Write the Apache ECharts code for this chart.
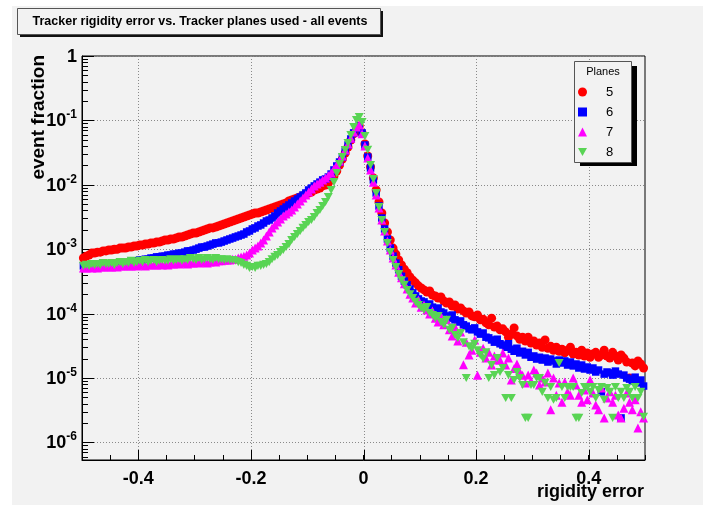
<!DOCTYPE html>
<html>
<head>
<meta charset="utf-8">
<script src="https://cdn.jsdelivr.net/npm/echarts@6/dist/echarts.min.js"></script>
<style>
html, body { margin: 0; padding: 0; background: #ffffff; }
#chart { width: 703px; height: 505px; }
</style>
</head>
<body>
<div id="chart"></div>
<script>
// Histogram binning of the rigidity error: 200 bins on [-0.5, 0.5]
const binLow = -0.5;
const binWidth = 0.005;

// Event fraction per bin, 5 tracker planes used
const planes5 = [
  7.3e-4, 7.8e-4, 8.1e-4, 8.7e-4, 8.7e-4, 9.0e-4, 9.0e-4, 9.4e-4, 9.4e-4, 9.7e-4,
  9.7e-4, 1.0e-3, 1.0e-3, 1.04e-3, 1.04e-3, 1.04e-3, 1.08e-3, 1.08e-3, 1.12e-3, 1.12e-3,
  1.16e-3, 1.16e-3, 1.2e-3, 1.2e-3, 1.25e-3, 1.25e-3, 1.29e-3, 1.29e-3, 1.34e-3, 1.39e-3,
  1.39e-3, 1.44e-3, 1.44e-3, 1.49e-3, 1.55e-3, 1.55e-3, 1.6e-3, 1.66e-3, 1.72e-3, 1.78e-3,
  1.78e-3, 1.85e-3, 1.92e-3, 1.99e-3, 2.06e-3, 2.14e-3, 2.14e-3, 2.21e-3, 2.29e-3, 2.38e-3,
  2.46e-3, 2.55e-3, 2.64e-3, 2.74e-3, 2.84e-3, 2.94e-3, 3.05e-3, 3.16e-3, 3.28e-3, 3.4e-3,
  3.52e-3, 3.65e-3, 3.65e-3, 3.78e-3, 3.92e-3, 4.06e-3, 4.21e-3, 4.36e-3, 4.52e-3, 4.69e-3,
  4.86e-3, 5.03e-3, 5.22e-3, 5.6e-3, 5.81e-3, 6.02e-3, 6.24e-3, 6.47e-3, 6.7e-3, 7.2e-3,
  7.46e-3, 7.73e-3, 8.3e-3, 8.6e-3, 8.9e-3, 9.6e-3, 9.9e-3, 1.07e-2, 1.19e-2, 1.37e-2,
  1.64e-2, 2.03e-2, 2.52e-2, 3.12e-2, 3.86e-2, 4.97e-2, 6.2e-2, 7.35e-2, 8.2e-2, 6.4e-2,
  4.3e-2, 2.8e-2, 1.89e-2, 1.28e-2, 8.3e-3, 5.4e-3, 3.65e-3, 2.55e-3, 1.85e-3, 1.39e-3,
  1.04e-3, 8.4e-4, 6.8e-4, 5.7e-4, 4.9e-4, 4.3e-4, 3.7e-4, 3.3e-4, 3.0e-4, 2.7e-4,
  2.5e-4, 2.33e-4, 2.16e-4, 2.24e-4, 1.94e-4, 1.88e-4, 1.75e-4, 1.81e-4, 1.57e-4, 1.46e-4,
  1.52e-4, 1.31e-4, 1.36e-4, 1.18e-4, 1.22e-4, 1.1e-4, 1.02e-4, 1.06e-4, 9.2e-5, 8.9e-5,
  9.5e-5, 8.0e-5, 8.2e-5, 7.2e-5, 6.7e-5, 8.5e-5, 6.2e-5, 6.4e-5, 5.6e-5, 5.8e-5,
  5.2e-5, 4.3e-5, 4.8e-5, 6.0e-5, 4.5e-5, 4.0e-5, 4.3e-5, 3.75e-5, 4.3e-5, 3.5e-5,
  3.75e-5, 3.25e-5, 3.5e-5, 3.0e-5, 3.9e-5, 2.9e-5, 3.1e-5, 2.7e-5, 3.0e-5, 2.6e-5,
  2.8e-5, 2.45e-5, 2.7e-5, 3.0e-5, 2.36e-5, 2.5e-5, 2.28e-5, 2.7e-5, 2.2e-5, 2.45e-5,
  2.1e-5, 2.36e-5, 2.5e-5, 2.1e-5, 2.28e-5, 2.7e-5, 2.2e-5, 2.04e-5, 2.5e-5, 2.2e-5,
  1.9e-5, 2.28e-5, 2.04e-5, 1.77e-5, 1.0e-5, 1.71e-5, 1.54e-5, 1.84e-5, 1.65e-5, 1.43e-5
];

// Event fraction per bin, 6 tracker planes used
const planes6 = [
  5.5e-4, 5.5e-4, 5.7e-4, 5.5e-4, 5.7e-4, 5.7e-4, 5.7e-4, 5.9e-4, 5.7e-4, 5.9e-4,
  5.9e-4, 6.1e-4, 5.9e-4, 6.1e-4, 6.3e-4, 6.3e-4, 6.3e-4, 6.6e-4, 6.6e-4, 6.6e-4,
  6.8e-4, 6.8e-4, 7.0e-4, 7.0e-4, 7.3e-4, 7.3e-4, 7.6e-4, 7.6e-4, 7.8e-4, 7.8e-4,
  8.1e-4, 8.1e-4, 8.4e-4, 8.4e-4, 8.7e-4, 8.7e-4, 9.0e-4, 9.4e-4, 9.4e-4, 9.7e-4,
  1.0e-3, 1.04e-3, 1.08e-3, 1.08e-3, 1.12e-3, 1.16e-3, 1.2e-3, 1.25e-3, 1.25e-3, 1.29e-3,
  1.34e-3, 1.39e-3, 1.44e-3, 1.49e-3, 1.55e-3, 1.6e-3, 1.66e-3, 1.72e-3, 1.85e-3, 1.92e-3,
  2.06e-3, 2.14e-3, 2.29e-3, 2.38e-3, 2.55e-3, 2.74e-3, 2.84e-3, 3.05e-3, 3.28e-3, 3.65e-3,
  3.92e-3, 4.21e-3, 4.52e-3, 4.86e-3, 5.22e-3, 5.6e-3, 6.02e-3, 6.47e-3, 6.95e-3, 7.46e-3,
  8.3e-3, 8.9e-3, 9.6e-3, 1.03e-2, 1.1e-2, 1.19e-2, 1.23e-2, 1.32e-2, 1.47e-2, 1.7e-2,
  1.96e-2, 2.26e-2, 2.7e-2, 3.34e-2, 4.15e-2, 5.15e-2, 6.4e-2, 7.6e-2, 8.2e-2, 6.4e-2,
  4.15e-2, 2.7e-2, 1.82e-2, 1.19e-2, 7.46e-3, 4.69e-3, 3.05e-3, 2.06e-3, 1.44e-3, 1.04e-3,
  7.8e-4, 6.1e-4, 4.8e-4, 3.8e-4, 3.2e-4, 2.8e-4, 2.4e-4, 2.1e-4, 1.88e-4, 1.69e-4,
  1.57e-4, 1.52e-4, 1.36e-4, 1.41e-4, 1.26e-4, 1.18e-4, 1.22e-4, 1.06e-4, 1.02e-4, 9.2e-5,
  8.5e-5, 9.5e-5, 8.0e-5, 7.4e-5, 7.7e-5, 6.7e-5, 6.4e-5, 5.8e-5, 5.6e-5, 6.0e-5,
  5.2e-5, 4.8e-5, 5.0e-5, 4.3e-5, 4.2e-5, 3.9e-5, 3.6e-5, 4.0e-5, 3.4e-5, 3.25e-5,
  3.0e-5, 3.4e-5, 2.8e-5, 2.6e-5, 2.9e-5, 2.45e-5, 2.6e-5, 2.28e-5, 2.5e-5, 2.1e-5,
  2.2e-5, 1.97e-5, 2.1e-5, 1.9e-5, 2.04e-5, 1.77e-5, 1.97e-5, 1.84e-5, 1.65e-5, 1.9e-5,
  1.71e-5, 1.84e-5, 1.59e-5, 1.77e-5, 1.54e-5, 1.65e-5, 1.43e-5, 1.59e-5, 1.38e-5, 1.48e-5,
  1.33e-5, 1.43e-5, 1.24e-5, 1.33e-5, 6.1e-6, 1.15e-5, 1.24e-5, 1.2e-5, 1.11e-5, 1.28e-5,
  1.15e-5, 2.4e-6, 1.11e-5, 1.0e-5, 9.6e-6, 9.0e-6, 1.03e-5, 8.4e-6, 9.3e-6, 7.5e-6
];

// Event fraction per bin, 7 tracker planes used
const planes7 = [
  5.1e-4, 5.1e-4, 5.3e-4, 5.1e-4, 5.3e-4, 5.1e-4, 5.3e-4, 5.3e-4, 5.5e-4, 5.3e-4,
  5.3e-4, 5.5e-4, 5.3e-4, 5.5e-4, 5.5e-4, 5.7e-4, 5.5e-4, 5.5e-4, 5.7e-4, 5.5e-4,
  5.7e-4, 5.7e-4, 5.5e-4, 5.7e-4, 5.9e-4, 5.7e-4, 5.7e-4, 5.9e-4, 5.7e-4, 5.9e-4,
  5.7e-4, 5.9e-4, 5.9e-4, 6.1e-4, 5.9e-4, 6.1e-4, 6.1e-4, 5.9e-4, 6.1e-4, 6.1e-4,
  6.3e-4, 6.1e-4, 6.3e-4, 6.3e-4, 6.1e-4, 6.3e-4, 6.6e-4, 6.3e-4, 6.6e-4, 6.6e-4,
  6.8e-4, 6.8e-4, 6.8e-4, 7.0e-4, 7.0e-4, 7.3e-4, 7.6e-4, 7.8e-4, 8.1e-4, 8.7e-4,
  9.7e-4, 1.04e-3, 1.12e-3, 1.25e-3, 1.39e-3, 1.6e-3, 1.85e-3, 2.14e-3, 2.38e-3, 2.64e-3,
  2.94e-3, 3.28e-3, 3.52e-3, 3.78e-3, 4.06e-3, 4.52e-3, 5.03e-3, 5.6e-3, 6.24e-3, 6.95e-3,
  7.73e-3, 8.6e-3, 9.6e-3, 1.03e-2, 1.1e-2, 1.19e-2, 1.28e-2, 1.38e-2, 1.52e-2, 1.76e-2,
  2.03e-2, 2.34e-2, 2.8e-2, 3.47e-2, 4.3e-2, 5.3e-2, 6.6e-2, 7.9e-2, 8.5e-2, 6.2e-2,
  4.0e-2, 2.6e-2, 1.7e-2, 1.1e-2, 6.95e-3, 4.36e-3, 2.84e-3, 1.92e-3, 1.34e-3, 9.7e-4,
  7.3e-4, 5.7e-4, 4.4e-4, 3.6e-4, 2.9e-4, 2.4e-4, 2.0e-4, 1.75e-4, 1.46e-4, 1.63e-4,
  1.26e-4, 1.36e-4, 1.14e-4, 9.9e-5, 1.1e-4, 8.5e-5, 7.4e-5, 9.2e-5, 6.7e-5, 8.0e-5,
  5.6e-5, 4.5e-5, 6.2e-5, 3.75e-5, 5.2e-5, 1.6e-5, 3.6e-5, 2.28e-5, 2.7e-5, 3.9e-5,
  1.1e-5, 2.5e-5, 2.9e-5, 2.04e-5, 2.5e-5, 1.59e-5, 2.2e-5, 1.9e-5, 1.9e-5, 2.45e-5,
  1.59e-5, 2.04e-5, 9.3e-6, 1.4e-5, 1.65e-5, 1.24e-5, 1.1e-5, 8.4e-6, 1.11e-5, 9.0e-6,
  1.33e-5, 1.2e-5, 7.8e-6, 1.0e-5, 8.7e-6, 1.2e-5, 3.2e-6, 1.0e-5, 5.4e-6, 8.4e-6,
  4.2e-6, 8.7e-6, 6.1e-6, 5.4e-6, 1.0e-5, 7.8e-6, 5.4e-6, 4.2e-6, 6.5e-6, 4.6e-6,
  9.3e-6, 5.85e-6, 3.8e-6, 3.2e-6, 7.0e-6, 2.4e-6, 4.9e-6, 6.1e-6, 4.2e-6, 5.4e-6,
  2.66e-6, 2.4e-6, 3.4e-6, 5.85e-6, 4.2e-6, 3.2e-6, 4.6e-6, 1.67e-6, 3.0e-6, 2.4e-6
];

// Event fraction per bin, 8 tracker planes used
const planes8 = [
  5.5e-4, 5.7e-4, 5.5e-4, 5.9e-4, 5.7e-4, 5.9e-4, 5.7e-4, 6.1e-4, 5.9e-4, 5.9e-4,
  6.1e-4, 5.7e-4, 6.1e-4, 6.3e-4, 5.9e-4, 6.3e-4, 6.1e-4, 6.6e-4, 6.1e-4, 6.3e-4,
  6.6e-4, 6.3e-4, 6.8e-4, 6.3e-4, 6.6e-4, 6.8e-4, 6.3e-4, 6.6e-4, 6.8e-4, 6.6e-4,
  6.6e-4, 7.0e-4, 6.6e-4, 6.8e-4, 7.0e-4, 6.6e-4, 7.0e-4, 6.8e-4, 7.3e-4, 7.0e-4,
  6.8e-4, 7.3e-4, 6.8e-4, 7.0e-4, 7.3e-4, 7.0e-4, 6.8e-4, 7.3e-4, 7.0e-4, 7.0e-4,
  6.8e-4, 7.0e-4, 6.8e-4, 6.8e-4, 6.6e-4, 6.3e-4, 6.1e-4, 5.7e-4, 5.5e-4, 5.1e-4,
  5.3e-4, 5.1e-4, 5.5e-4, 5.5e-4, 5.7e-4, 5.9e-4, 6.3e-4, 7.0e-4, 7.6e-4, 8.1e-4,
  9.0e-4, 9.7e-4, 1.08e-3, 1.2e-3, 1.39e-3, 1.55e-3, 1.72e-3, 1.92e-3, 2.14e-3, 2.38e-3,
  2.64e-3, 2.84e-3, 3.16e-3, 3.65e-3, 4.06e-3, 4.69e-3, 5.4e-3, 6.47e-3, 8.3e-3, 1.1e-2,
  1.52e-2, 2.1e-2, 2.7e-2, 3.47e-2, 4.45e-2, 5.9e-2, 7.9e-2, 1.01e-1, 1.13e-1, 9.4e-2,
  5.7e-2, 3.5e-2, 2.03e-2, 1.23e-2, 7.46e-3, 4.5e-3, 2.84e-3, 1.85e-3, 1.25e-3, 9.0e-4,
  6.8e-4, 5.3e-4, 4.1e-4, 3.3e-4, 2.8e-4, 2.33e-4, 2.0e-4, 1.75e-4, 1.52e-4, 1.36e-4,
  1.22e-4, 1.14e-4, 1.26e-4, 1.02e-4, 9.5e-5, 8.5e-5, 9.2e-5, 7.4e-5, 6.7e-5, 8.0e-5,
  5.6e-5, 6.0e-5, 4.65e-5, 4.2e-5, 5.0e-5, 3.6e-5, 1.0e-5, 3.1e-5, 2.9e-5, 3.4e-5,
  2.7e-5, 2.28e-5, 2.0e-5, 2.5e-5, 1.0e-5, 1.59e-5, 1.11e-5, 2.04e-5, 1.24e-5, 1.43e-5,
  4.9e-6, 1.11e-5, 4.9e-6, 9.3e-6, 1.24e-5, 1.0e-5, 7.8e-6, 2.4e-6, 2.4e-6, 7.8e-6,
  7.8e-6, 1.0e-5, 1.0e-5, 6.1e-6, 8.4e-6, 4.9e-6, 7.25e-6, 4.6e-6, 4.9e-6, 1.71e-5,
  7.25e-6, 4.9e-6, 7.25e-6, 7.25e-6, 7.25e-6, 2.4e-6, 2.4e-6, 5.85e-6, 7.25e-6, 7.25e-6,
  6.1e-6, 7.25e-6, 4.9e-6, 6.5e-6, 7.25e-6, 4.6e-6, 7.0e-6, 6.1e-6, 2.4e-6, 7.25e-6,
  4.9e-6, 6.1e-6, 4.9e-6, 7.0e-6, 6.1e-6, 4.9e-6, 7.25e-6, 4.9e-6, 6.1e-6, 2.5e-6
];

const seriesNames = ['5', '6', '7', '8'];

// Axis ranges and labelled ticks
const xMin = -0.5, xMax = 0.5;
const xMajorTicks = [-0.4, -0.2, 0, 0.2, 0.4];
const xTickLabels = ['-0.4', '-0.2', '0', '0.2', '0.4'];
const yMin = 5.33e-7, yMax = 1;
const yDecades = [1, 1e-1, 1e-2, 1e-3, 1e-4, 1e-5, 1e-6];
const yTickLabels = ['{b|1}', '{b|10}{s|-1}', '{b|10}{s|-2}', '{b|10}{s|-3}', '{b|10}{s|-4}', '{b|10}{s|-5}', '{b|10}{s|-6}'];

const FONT = "'Liberation Sans', Arial, Helvetica, sans-serif";
const PANEL = '#f2f2f2';

function binPoints(values) {
  return values.map((v, i) => [binLow + binWidth * (i + 0.5), v]);
}

// Minor ticks of the log axis at 2..9 x 10^n
const yMinorTicks = [];
for (let n = -7; n <= 0; n++) {
  for (let k = 2; k <= 9; k++) {
    const v = Number((k * Math.pow(10, n)).toPrecision(3));
    if (v > yMin && v < yMax) yMinorTicks.push(v);
  }
}

// Dotted grid, long ticks and decade labels drawn through the axis scales
function renderFrame(params, api) {
  const cs = params.coordSys;
  const left = cs.x, top = cs.y, right = cs.x + cs.width, bottom = cs.y + cs.height;
  const dotted = { stroke: '#8a8a8a', lineWidth: 1, lineDash: [1, 2] };
  const solid = { stroke: '#000', lineWidth: 1 };
  const children = [];
  xMajorTicks.forEach(function (v) {
    const px = Math.round(api.coord([v, yMax])[0]) + 0.5;
    children.push({ type: 'line', shape: { x1: px, y1: top, x2: px, y2: bottom }, style: dotted });
    children.push({ type: 'line', shape: { x1: px, y1: bottom, x2: px, y2: bottom - 10 }, style: solid });
  });
  yDecades.forEach(function (v, i) {
    const py = Math.round(api.coord([xMin, v])[1]) + 0.5;
    children.push({ type: 'line', shape: { x1: left, y1: py, x2: right, y2: py }, style: dotted });
    children.push({ type: 'line', shape: { x1: left, y1: py, x2: left + 12, y2: py }, style: solid });
    children.push({
      type: 'text',
      style: {
        x: left - 5, y: py + 1, text: yTickLabels[i], align: 'right', verticalAlign: 'middle',
        rich: {
          b: { fontFamily: FONT, fontSize: 18, fontWeight: 'bold', fill: '#000', lineHeight: 26 },
          s: { fontFamily: FONT, fontSize: 12, fontWeight: 'bold', fill: '#000', lineHeight: 12, verticalAlign: 'top' }
        }
      }
    });
  });
  yMinorTicks.forEach(function (v) {
    const py = Math.round(api.coord([xMin, v])[1]) + 0.5;
    children.push({ type: 'line', shape: { x1: left, y1: py, x2: left + 6, y2: py }, style: solid });
  });
  return { type: 'group', children: children };
}

const chart = echarts.init(document.getElementById('chart'), null, { renderer: 'canvas' });

const option = {
  animation: false,
  backgroundColor: PANEL,
  legend: {
    orient: 'vertical', left: 573, top: 80,
    itemWidth: 9, itemHeight: 9, itemGap: 6,
    selectedMode: false,
    data: seriesNames,
    textStyle: { fontFamily: FONT, fontSize: 13, color: '#000', lineHeight: 14, padding: [0, 0, 0, 14] },
    z: 4
  },
  grid: {
    left: 82, top: 56, right: 58, bottom: 45,
    show: true, borderColor: '#000', borderWidth: 1, backgroundColor: 'transparent'
  },
  xAxis: {
    type: 'value', min: xMin, max: xMax, interval: 0.05,
    axisLine: { show: true, onZero: false, lineStyle: { color: '#000', width: 1 } },
    axisTick: { show: true, inside: true, length: 5, lineStyle: { color: '#000', width: 1 } },
    splitLine: { show: false },
    axisLabel: {
      margin: 10, color: '#000', fontFamily: FONT, fontSize: 18, fontWeight: 'bold',
      showMinLabel: true, showMaxLabel: true,
      formatter: function (v) {
        const idx = xMajorTicks.findIndex(function (t) { return Math.abs(t - v) < 1e-6; });
        return idx >= 0 ? xTickLabels[idx] : '';
      }
    }
  },
  yAxis: {
    type: 'log', logBase: 10, min: yMin, max: yMax,
    axisLine: { show: true, onZero: false, lineStyle: { color: '#000', width: 1 } },
    axisTick: { show: false }, axisLabel: { show: false },
    splitLine: { show: false }, minorTick: { show: false }
  },
  graphic: [
    // white page margin on the left and top
    { type: 'rect', shape: { x: 0, y: 0, width: 703, height: 6 }, style: { fill: '#ffffff' }, silent: true, z: 0 },
    { type: 'rect', shape: { x: 0, y: 0, width: 12, height: 505 }, style: { fill: '#ffffff' }, silent: true, z: 0 },
    // title box with drop shadow
    { type: 'rect', shape: { x: 20, y: 11, width: 363, height: 26 }, style: { fill: '#111' }, silent: true, z: 5 },
    { type: 'rect', shape: { x: 17.5, y: 8.5, width: 363, height: 26 }, style: { fill: PANEL, stroke: '#555', lineWidth: 1 }, silent: true, z: 5 },
    { type: 'text', x: 200, y: 22, style: { text: 'Tracker rigidity error vs. Tracker planes used - all events', fontFamily: FONT, fontSize: 12.5, fontWeight: 'bold', fill: '#000', align: 'center', verticalAlign: 'middle' }, silent: true, z: 6 },
    // legend box with drop shadow
    { type: 'rect', shape: { x: 580, y: 66, width: 57, height: 100 }, style: { fill: '#000' }, silent: true, z: 3 },
    { type: 'rect', shape: { x: 574.5, y: 61.5, width: 57, height: 101 }, style: { fill: PANEL, stroke: '#555', lineWidth: 1 }, silent: true, z: 3 },
    { type: 'text', x: 603, y: 72, style: { text: 'Planes', fontFamily: FONT, fontSize: 11, fill: '#000', align: 'center', verticalAlign: 'middle' }, silent: true, z: 4 },
    // axis titles
    { type: 'text', x: 644, y: 492, style: { text: 'rigidity error', fontFamily: FONT, fontSize: 18, fontWeight: 'bold', fill: '#000', align: 'right', verticalAlign: 'middle' }, silent: true, z: 4 },
    { type: 'text', x: 39, y: 55, rotation: Math.PI / 2, style: { text: 'event fraction', fontFamily: FONT, fontSize: 19, fontWeight: 'bold', fill: '#000', align: 'right', verticalAlign: 'middle' }, silent: true, z: 4 }
  ],
  series: [
    {
      type: 'custom', coordinateSystem: 'cartesian2d', data: [[0, 0.01]],
      renderItem: renderFrame, silent: true, clip: false, z: 1
    },
    {
      type: 'scatter', name: '5', data: binPoints(planes5),
      symbol: 'circle', symbolSize: 9, itemStyle: { color: '#ff0000', opacity: 1 }, silent: true, z: 2
    },
    {
      type: 'scatter', name: '6', data: binPoints(planes6),
      symbol: 'rect', symbolSize: 7.5, itemStyle: { color: '#0000ff', opacity: 1 }, silent: true, z: 2
    },
    {
      type: 'scatter', name: '7', data: binPoints(planes7),
      symbol: 'triangle', symbolSize: 9, itemStyle: { color: '#ff00ff', opacity: 1 }, silent: true, z: 2
    },
    {
      type: 'scatter', name: '8', data: binPoints(planes8),
      symbol: 'path://M0,0L10,0L5,9Z', symbolSize: [9, 9], symbolKeepAspect: true,
      itemStyle: { color: '#59d454', opacity: 1 }, silent: true, z: 2
    }
  ]
};

chart.setOption(option);
</script>
</body>
</html>
